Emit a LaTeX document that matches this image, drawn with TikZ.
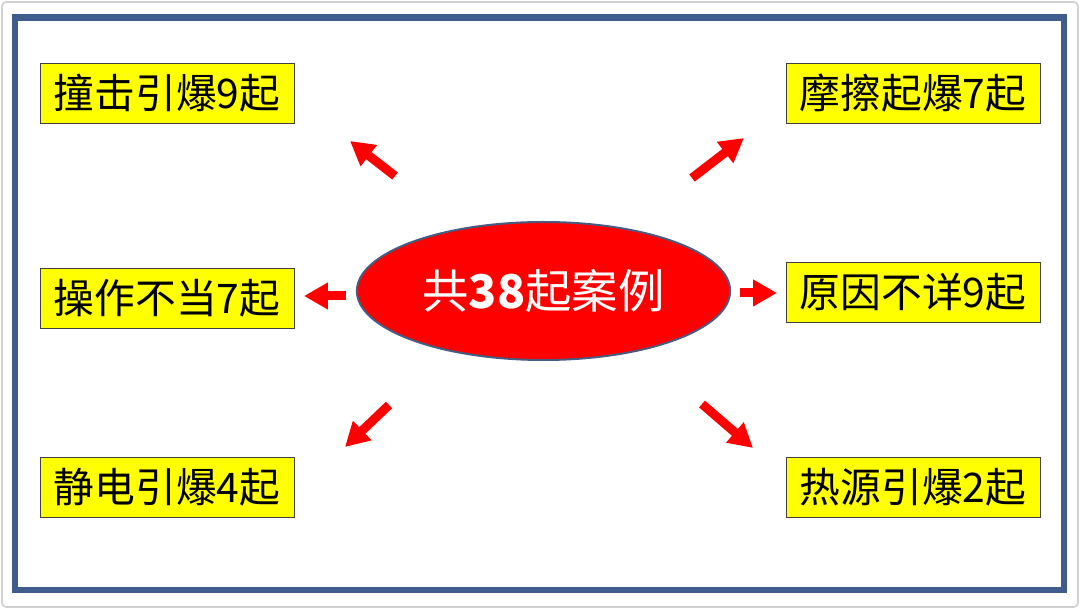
\documentclass[tikz,border=0pt]{standalone}
\usepackage{fontspec}
\setmainfont{Noto Sans CJK SC}
\usetikzlibrary{arrows.meta,shapes.geometric}
\definecolor{FrameBlue}{RGB}{62,92,140}
\definecolor{EdgeSlate}{RGB}{70,92,128}
\definecolor{CaseRed}{RGB}{255,0,0}
\definecolor{TagYellow}{RGB}{255,255,0}

\begin{document}
\begin{tikzpicture}[x=0.025cm,y=-0.025cm,>=Latex,
    tag/.style={draw=black!75,line width=0.6pt,fill=TagYellow,minimum width=6.35cm,
      minimum height=1.5cm,inner sep=0pt,font=\fontsize{29pt}{30pt}\selectfont},
    blockarrow/.style={CaseRed,line width=6.4pt,-{Triangle[length=17pt,width=18pt]}}]
  \useasboundingbox (0,0) rectangle (1080,609);
  \draw[black!18,line width=1.2pt,rounded corners=3pt] (2,2) rectangle (1078,607);
  \draw[FrameBlue,line width=4.3pt] (15,17.5) rectangle (1064,590);
  % centre
  \node[ellipse,draw=EdgeSlate,line width=1.4pt,fill=CaseRed,minimum width=9.33cm,
    minimum height=3.45cm,inner sep=0pt,text=white,font=\fontsize{33pt}{34pt}\selectfont]
    (cases) at (543.5,291) {共\textbf{38}起案例};
  % causes
  \node[tag] (impact) at (167,93) {撞击引爆9起};
  \node[tag] (misuse) at (167,298) {操作不当7起};
  \node[tag] (static) at (167,487.5) {静电引爆4起};
  \node[tag] (friction) at (913,93) {摩擦起爆7起};
  \node[tag] (unknown) at (913,292.5) {原因不详9起};
  \node[tag] (heat) at (913,487.5) {热源引爆2起};
  % arrows
  \coordinate (tlS) at (395,176); \coordinate (tlE) at (350,141);
  \coordinate (trS) at (692,178); \coordinate (trE) at (744,138);
  \coordinate (lS) at (346,296);  \coordinate (lE) at (304,296);
  \coordinate (rS) at (740,293);  \coordinate (rE) at (777,293);
  \coordinate (blS) at (389,405); \coordinate (blE) at (345,447);
  \coordinate (brS) at (702,404); \coordinate (brE) at (753,448);
  \foreach \a in {tl,tr,l,r,bl,br}
    \draw[blockarrow] (\a S) -- (\a E);
\end{tikzpicture}
\end{document}
